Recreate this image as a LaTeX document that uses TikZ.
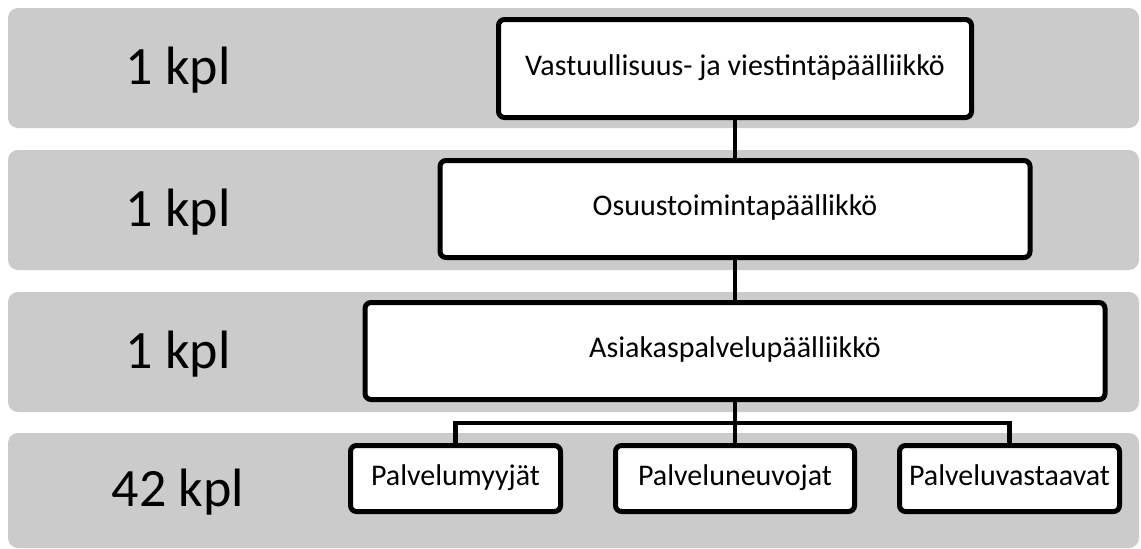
\documentclass[tikz,border=0pt]{standalone}
\usepackage{fontspec}
\setmainfont{Carlito}
\usepackage{tikz}
\usetikzlibrary{positioning, calc}
\definecolor{bandgray}{HTML}{CBCBCB}

\begin{document}
\begin{tikzpicture}[x=1pt, y=-1pt,
  band/.style={fill=bandgray, rounded corners=10pt},
  rolebox/.style={draw, fill=white, line width=5pt, rounded corners=6pt, font=\fontsize{30}{34}\selectfont,
    text height=21pt, text depth=8pt, align=center, inner sep=0pt},
  countlabel/.style={font=\fontsize{54}{60}\selectfont, anchor=base},
  link/.style={line width=4.5pt}]
  \useasboundingbox (0,0) rectangle (1141,549);

  % Grey level bands with head counts
  \foreach \top/\bot/\cnt [count=\i] in {8/128/1 kpl, 150/270/1 kpl, 292/412/1 kpl, 433/548/42 kpl} {
    \fill[band] (8,\top) rectangle (1139,\bot);
    \node[countlabel] (cnt\i) at (178, {(\top+\bot)/2+16}) {\cnt};
  }

  % Managers
  \node[rolebox, minimum width=473, minimum height=98] (vj) at (735, 68.5) {Vastuullisuus- ja viestintäpäälliikkö};
  \node[rolebox, minimum width=590, minimum height=97] (op) at (735, 209) {Osuustoimintapäällikkö};
  \node[rolebox, minimum width=740, minimum height=97] (ap) at (735, 351) {Asiakaspalvelupäälliikkö};

  % Staff
  \node[rolebox, minimum width=210, minimum height=66] (pm) at (455.5, 478.5) {Palvelumyyjät};
  \node[rolebox, minimum width=239, minimum height=66] (pn) at (735, 478.5) {Palveluneuvojat};
  \node[rolebox, minimum width=220, minimum height=66] (pv) at (1009.5, 478.5) {Palveluvastaavat};

  % Connectors
  \coordinate (bus) at (735, 423);
  \draw[link] (vj.south) -- (op.north);
  \draw[link] (op.south) -- (ap.north);
  \draw[link] (ap.south) -- (pn.north);
  \draw[link] (pm.north) |- (bus) -| (pv.north);
\end{tikzpicture}
\end{document}
